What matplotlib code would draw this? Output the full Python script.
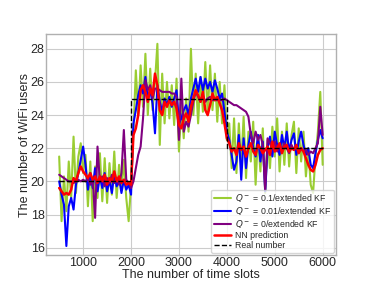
import numpy as np
import matplotlib
matplotlib.use("Agg")
import matplotlib.pyplot as plt
from matplotlib import style

style.use("seaborn-v0_8-whitegrid")

# time slots 500..6000, step 50
slots = np.arange(500, 6001, 50)

real_x = [500, 2000, 2000, 4000, 4000, 6000]
real_y = [20, 20, 25, 25, 22, 22]

q01_kf = [21.5, 17.6, 20.3, 18.2, 21.2, 19.0, 22.7, 19.3, 21.5, 22.3,
          20.5, 21.6, 18.5, 21.2, 17.6, 20.9, 19.0, 21.7, 18.8, 21.4,
          18.7, 21.1, 19.2, 21.8, 19.0, 21.0, 19.5, 21.3, 19.0, 17.6,
          19.8,
          23.0, 26.7, 24.0, 27.0, 24.5, 27.7, 24.0, 26.8, 24.3, 26.0,
          28.3, 22.2, 26.5, 23.5, 26.0, 23.8, 25.8, 23.4, 26.2, 21.8,
          24.6, 22.6, 25.0, 23.0, 28.0, 24.0, 26.5, 23.5, 26.3, 24.2,
          27.2, 24.0, 27.0, 24.3, 26.5, 23.6, 26.0, 23.5, 25.8, 22.5,
          23.5, 20.8, 23.8, 20.5, 23.5, 21.0, 23.9, 20.2, 23.0, 21.2,
          23.6, 19.8, 22.8, 20.6, 23.2, 19.3, 22.5, 20.8, 23.3, 21.5,
          23.8, 20.6, 23.0, 21.0, 23.5, 20.9, 22.8, 23.6, 20.5, 23.2,
          21.2, 23.0, 20.3, 22.0, 19.8, 19.3, 21.5, 23.0, 25.4, 21.0]

q001_kf = [20.0, 19.2, 18.6, 16.1, 18.5, 19.0, 18.3, 19.8, 20.5, 21.3,
           22.1, 21.0, 19.5, 20.5, 19.6, 20.8, 19.4, 20.3, 19.6, 20.5,
           19.4, 20.1, 19.3, 20.5, 19.7, 20.2, 19.3, 20.1, 19.5, 19.8,
           19.2,
           23.5, 24.3, 25.2, 25.8, 25.3, 26.3, 25.0, 25.5, 24.7, 22.9,
           25.8, 24.8, 24.2, 25.0, 24.6, 25.1, 24.5, 25.0, 25.5, 23.5,
           23.8, 24.3, 24.6, 24.0, 25.0, 25.6, 26.2, 25.4, 26.3, 25.5,
           26.2, 25.6, 26.0, 25.4, 26.1, 25.6, 25.0, 25.3, 24.2, 23.0,
           22.5, 21.6, 20.7, 21.2, 22.8, 20.1, 22.6, 20.8, 22.2, 23.0,
           22.0, 21.5, 22.8, 21.2, 22.4, 19.4, 22.0, 22.7, 21.5, 23.0,
           22.2, 21.6, 22.8, 22.0, 23.0, 21.8, 22.5, 22.9, 21.6, 22.4,
           23.0, 22.2, 21.6, 22.0, 21.0, 20.8, 21.7, 22.5, 23.1, 22.6]

q0_kf = [20.4, 20.3, 20.2, 20.1, 20.0, 20.0, 19.9, 20.0, 20.1, 20.0,
         20.1, 20.0, 20.2, 19.8, 20.1, 17.8, 22.1, 20.0, 20.3, 19.7,
         20.2, 19.9, 20.4, 19.9, 20.2, 19.8, 20.5, 23.1, 20.1, 19.9,
         19.6,
         20.0, 20.8, 21.6, 22.1, 23.8, 26.1, 25.5, 25.8, 25.0, 25.6,
         25.6, 25.5, 25.4, 25.4, 25.4, 25.4, 25.3, 25.3, 25.1, 22.5,
         26.2, 23.0, 23.6, 23.3, 24.0, 24.8, 25.4, 25.1, 24.8, 25.2,
         24.8, 25.0, 25.1, 24.9, 24.9, 24.9, 24.9, 24.9, 25.0, 24.9,
         24.8, 24.7, 24.6, 24.6, 24.5, 24.4, 24.3, 24.2, 23.9, 22.8,
         22.3, 23.0, 22.5, 22.8, 22.2, 19.5, 22.6, 22.3, 22.0, 22.4,
         21.8, 22.2, 21.9, 22.3, 22.0, 21.7, 22.2, 21.9, 22.1, 21.8,
         22.0, 21.8, 21.9, 21.6, 21.8, 21.7, 22.0, 22.3, 24.5, 22.8]

nn_pred = [19.6, 19.4, 19.2, 19.3, 19.2, 19.5, 20.2, 20.0, 20.5, 20.9,
           20.6, 20.4, 20.2, 20.5, 20.1, 20.3, 19.9, 20.3, 20.0, 20.4,
           19.8, 20.2, 20.0, 20.6, 20.0, 20.3, 19.9, 20.1, 19.8, 19.9,
           19.8,
           22.8, 23.2, 24.0, 25.5, 25.8, 25.4, 24.8, 25.6, 25.2, 26.5,
           25.8, 24.3, 24.0, 24.8, 24.5, 24.9, 24.6, 24.8, 24.4, 23.4,
           23.2, 23.8, 24.1, 23.6, 24.5, 25.0, 25.5, 25.2, 24.8, 25.4,
           24.3, 24.0, 24.6, 25.3, 24.9, 25.1, 24.7, 24.3, 23.5, 22.6,
           22.3, 21.8, 22.0, 21.6, 22.3, 21.9, 22.1, 21.5, 22.0, 22.3,
           21.8, 21.6, 22.2, 22.0, 21.7, 21.9, 22.1, 21.6, 22.4, 21.8,
           22.0, 22.3, 21.7, 22.1, 22.2, 21.8, 22.0, 21.9, 22.2, 21.7,
           22.0, 21.8, 21.4, 21.0, 20.7, 20.6, 21.0, 21.6, 21.9, 22.0]

fig, ax = plt.subplots(figsize=(3.74, 2.87), dpi=100)
fig.subplots_adjust(left=0.123, right=0.898, bottom=0.111, top=0.882)

ax.plot(slots, q01_kf, color="yellowgreen", lw=1.5, label="$Q^-$ = 0.1/extended KF")
ax.plot(slots, q001_kf, color="blue", lw=1.5, label="$Q^-$ = 0.01/extended KF")
ax.plot(slots, q0_kf, color="purple", lw=1.5, label="$Q^-$ = 0/extended KF")
ax.plot(slots, nn_pred, color="red", lw=1.8, label="NN prediction")
ax.plot(real_x, real_y, "k--", lw=1.0, label="Real number")

ax.set_xlim(225, 6275)
ax.set_ylim(15.55, 28.9)
ax.set_xticks([1000, 2000, 3000, 4000, 5000, 6000])
ax.set_yticks([16, 18, 20, 22, 24, 26, 28])
ax.tick_params(labelsize=9, pad=1)
ax.set_xlabel("The number of time slots", fontsize=9, labelpad=0)
ax.set_ylabel("The number of WiFi users", fontsize=9, labelpad=0)
for s in ax.spines.values():
    s.set_visible(True)
    s.set_color("#b0b0b0")
ax.legend(loc="lower right", fontsize=6.3, frameon=True, borderaxespad=0.25,
          labelspacing=0.12, handlelength=1.9, handletextpad=0.5, borderpad=0.3)

plt.savefig("out.png")
